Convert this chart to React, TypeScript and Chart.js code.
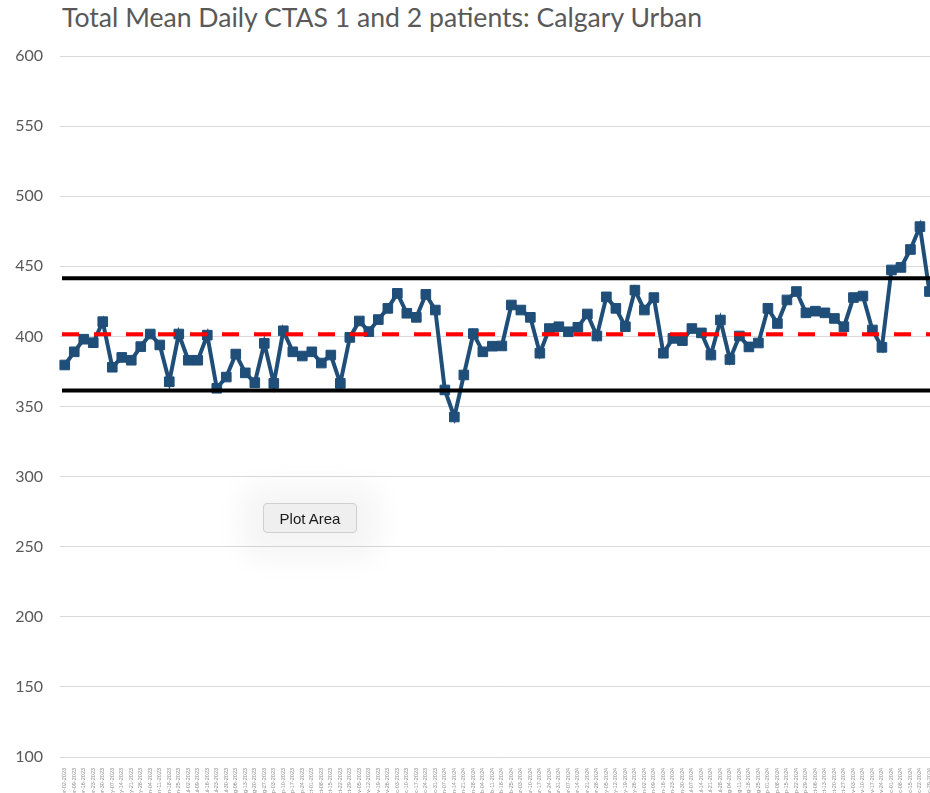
import React, { useEffect, useRef } from "react";
import { Chart, registerables } from "chart.js";

Chart.register(...registerables);

const TITLE = "Total Mean Daily CTAS 1 and 2 patients: Calgary Urban";

const weekLabels = [
  "Apr-02-2023", "Apr-09-2023", "Apr-16-2023", "Apr-23-2023", "Apr-30-2023",
  "May-07-2023", "May-14-2023", "May-21-2023", "May-28-2023",
  "Jun-04-2023", "Jun-11-2023", "Jun-18-2023", "Jun-25-2023",
  "Jul-02-2023", "Jul-09-2023", "Jul-16-2023", "Jul-23-2023", "Jul-30-2023",
  "Aug-06-2023", "Aug-13-2023", "Aug-20-2023", "Aug-27-2023",
  "Sep-03-2023", "Sep-10-2023", "Sep-17-2023", "Sep-24-2023",
  "Oct-01-2023", "Oct-08-2023", "Oct-15-2023", "Oct-22-2023", "Oct-29-2023",
  "Nov-05-2023", "Nov-12-2023", "Nov-19-2023", "Nov-26-2023",
  "Dec-03-2023", "Dec-10-2023", "Dec-17-2023", "Dec-24-2023", "Dec-31-2023",
  "Jan-07-2024", "Jan-14-2024", "Jan-21-2024", "Jan-28-2024",
  "Feb-04-2024", "Feb-11-2024", "Feb-18-2024", "Feb-25-2024",
  "Mar-03-2024", "Mar-10-2024", "Mar-17-2024", "Mar-24-2024", "Mar-31-2024",
  "Apr-07-2024", "Apr-14-2024", "Apr-21-2024", "Apr-28-2024",
  "May-05-2024", "May-12-2024", "May-19-2024", "May-26-2024",
  "Jun-02-2024", "Jun-09-2024", "Jun-16-2024", "Jun-23-2024", "Jun-30-2024",
  "Jul-07-2024", "Jul-14-2024", "Jul-21-2024", "Jul-28-2024",
  "Aug-04-2024", "Aug-11-2024", "Aug-18-2024", "Aug-25-2024",
  "Sep-01-2024", "Sep-08-2024", "Sep-15-2024", "Sep-22-2024", "Sep-29-2024",
  "Oct-06-2024", "Oct-13-2024", "Oct-20-2024", "Oct-27-2024",
  "Nov-03-2024", "Nov-10-2024", "Nov-17-2024", "Nov-24-2024",
  "Dec-01-2024", "Dec-08-2024", "Dec-15-2024", "Dec-22-2024", "Dec-29-2024",
];

const ctasValues = [
  379.6, 389, 398, 395.5, 410.5, 378, 385, 383, 392.7, 401.7,
  393.9, 367.7, 401.7, 383, 383, 400.9, 363, 371, 387.4, 374,
  367, 395, 366.5, 404, 389, 386, 389, 381, 386.7, 366.5,
  399.3, 411, 403.4, 412, 420, 430.7, 416.5, 413.6, 430, 418.8,
  361.8, 342.5, 372.5, 402, 389, 393, 393.2, 422.4, 418.8, 413.6,
  388, 405.6, 406.9, 403.3, 406.5, 416, 400.3, 428.2, 420, 406.9,
  433, 418.8, 427.7, 388, 398.6, 397, 405.6, 402.5, 386.7, 411.7,
  383.5, 400.3, 392.5, 395.3, 420, 409.2, 426, 432, 416.8, 418,
  416.8, 412.8, 406.9, 427.7, 428.8, 404.6, 392.2, 447.4, 449.2, 462,
  478.3, 432,
];

const MEAN_LINE = 401.5;
const UPPER_LIMIT = 441.5;
const LOWER_LIMIT = 361.5;

const Y_MIN = 100;
const Y_MAX = 600;
const Y_STEP = 50;

const refLinesPlugin = {
  id: "refLines",
  afterDatasetsDraw(chart: any) {
    const { ctx, chartArea, scales } = chart;
    const y = scales.y;
    const lines = [
      { v: UPPER_LIMIT, color: "#000000", dash: [] as number[], w: 4 },
      { v: LOWER_LIMIT, color: "#000000", dash: [] as number[], w: 4 },
      { v: MEAN_LINE, color: "#FF0000", dash: [17, 15], w: 4 },
    ];
    ctx.save();
    for (const l of lines) {
      const py = y.getPixelForValue(l.v);
      ctx.beginPath();
      ctx.setLineDash(l.dash);
      ctx.lineWidth = l.w;
      ctx.strokeStyle = l.color;
      ctx.moveTo(chartArea.left + 2, py);
      ctx.lineTo(chartArea.right, py);
      ctx.stroke();
    }
    ctx.restore();
  },
};

export default function App() {
  const canvasRef = useRef<HTMLCanvasElement | null>(null);

  useEffect(() => {
    if (!canvasRef.current) return;
    Chart.defaults.font.family = "Lato";
    const chart = new Chart(canvasRef.current, {
      type: "line",
      data: {
        labels: weekLabels,
        datasets: [
          {
            data: ctasValues,
            borderColor: "#1F4E79",
            backgroundColor: "#1F4E79",
            borderWidth: 4,
            pointStyle: "rect",
            pointRadius: 6.8,
            pointBorderWidth: 1,
            pointBackgroundColor: "#1F4E79",
            pointBorderColor: "#1F4E79",
            tension: 0,
            fill: false,
          },
        ],
      },
      options: {
        animation: false,
        responsive: false,
        devicePixelRatio: 1,
        layout: { padding: { top: 56, left: 0, right: 0, bottom: 0 } },
        plugins: {
          legend: { display: false },
          tooltip: { enabled: false },
          title: { display: false },
        },
        scales: {
          x: {
            offset: true,
            grid: { display: false },
            border: { display: false },
            ticks: {
              autoSkip: false,
              maxRotation: 90,
              minRotation: 90,
              padding: 3,
              color: "#8C8C8C",
              font: { size: 5.5, family: "Liberation Sans" },
            },
            afterFit(scale: any) {
              scale.height = 36;
              scale.paddingLeft = 0;
              scale.paddingRight = 0;
            },
          },
          y: {
            min: Y_MIN,
            max: Y_MAX,
            grid: { color: "#D9D9D9", lineWidth: 1, drawTicks: false },
            border: { display: false },
            ticks: {
              stepSize: Y_STEP,
              padding: 17,
              color: "#595959",
              font: { size: 16, family: "Lato" },
            },
            afterFit(scale: any) {
              scale.width = 60;
              scale.paddingTop = 0;
              scale.paddingBottom = 0;
            },
          },
        },
      },
      plugins: [refLinesPlugin],
    });
    return () => chart.destroy();
  }, []);

  return (
    <div
      style={{
        position: "fixed",
        left: 0,
        top: 0,
        width: 930,
        height: 793,
        overflow: "hidden",
        background: "#FFFFFF",
      }}
    >
      <div
        style={{
          position: "absolute",
          left: 62,
          top: 1,
          fontFamily: "Lato",
          fontSize: 26.6,
          color: "#595959",
          whiteSpace: "nowrap",
        }}
      >
        {TITLE}
      </div>
      <canvas
        ref={canvasRef}
        width={942}
        height={793}
        style={{ position: "absolute", left: 0, top: 0, width: 942, height: 793 }}
      />
      <div
        style={{
          position: "absolute",
          left: 263,
          top: 503,
          width: 94,
          height: 30,
          boxSizing: "border-box",
          background: "#EFEFEF",
          border: "1px solid #CFCFCF",
          borderRadius: 4,
          boxShadow: "0 4px 30px 22px rgba(0,0,0,0.045)",
          fontFamily: "Liberation Sans",
          fontSize: 15,
          color: "#1A1A1A",
          display: "flex",
          alignItems: "center",
          justifyContent: "center",
        }}
      >
        Plot Area
      </div>
    </div>
  );
}
